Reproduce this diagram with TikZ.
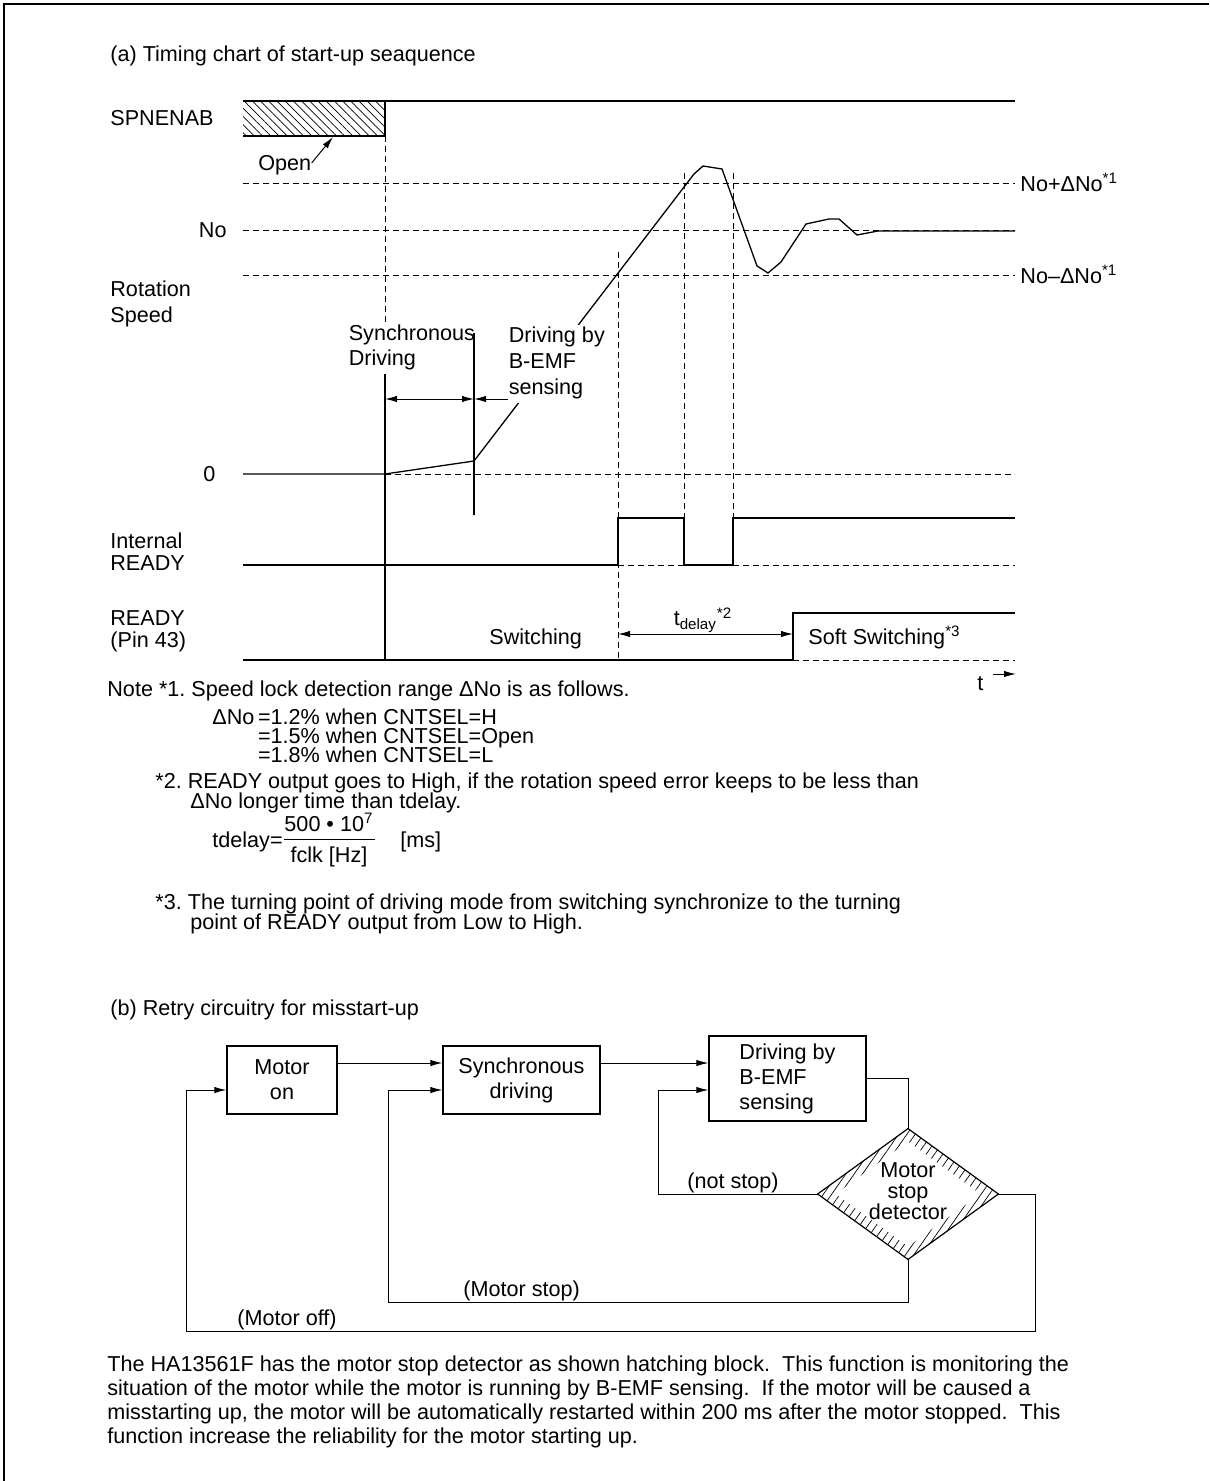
\documentclass[tikz,border=0pt]{standalone}
\usepackage{fontspec}
\setmainfont{Liberation Sans}
\usetikzlibrary{arrows.meta,patterns.meta,shapes.geometric,calc}
\frenchspacing
\begin{document}
\begin{tikzpicture}[x=0.5pt,y=-0.5pt,
  font=\fontsize{10.8}{12.5}\selectfont,
  sig/.style={line width=0.65pt},
  dsh/.style={line width=0.5pt, dash pattern=on 3pt off 2pt},
  lbl/.style={inner sep=0pt, anchor=west, text height=7.8pt, text depth=0pt},
  wlbl/.style={inner sep=1.2pt, anchor=west, fill=white, text height=7.8pt, text depth=3pt},
  arr/.style={-{Latex[length=6pt,width=3.2pt]}, line width=0.5pt},
  dbl/.style={{Latex[length=6pt,width=3.2pt]}-{Latex[length=6pt,width=3.2pt]}, line width=0.5pt},
  box/.style={draw, line width=0.6pt, rectangle, inner sep=0pt, align=center},
  flow/.style={line width=0.5pt},
]
\useasboundingbox (0,0) rectangle (1209,1481);
\draw[line width=0.8pt] (4,1481) -- (4,4) -- (1209,4);

% ---------------- (a) timing chart ----------------
\node[lbl] (ta) at (110,54) {(a) Timing chart of start-up seaquence};

% SPNENAB
\node[lbl] (spn) at (110,118) {SPNENAB};
\fill[pattern={Lines[angle=-45,distance=2.9pt,line width=0.35pt]}] (243,101) rectangle (385,136);
\draw[sig] (243,136) -- (385,136) -- (385,101);
\draw[sig] (243,101) -- (1015,101);
\node[lbl] (open) at (258,163) {Open};
\coordinate (openTip) at (333,137);
\draw[arr] (open.east) -- (openTip);

% horizontal reference lines
\draw[dsh] (243,184) -- (1015,184);
\draw[dsh] (243,231) -- (1015,231);
\draw[dsh] (243,276) -- (1015,276);
\draw[dsh] (385,474) -- (1015,474);
\node[lbl] (nop) at (1020,184) {No+ΔNo\textsuperscript{*1}};
\node[lbl] (nom) at (1020,276) {No–ΔNo\textsuperscript{*1}};
\node[lbl, anchor=east] (no) at (227,230) {No};
\node[lbl] (rot1) at (110,289) {Rotation};
\node[lbl] (rot2) at (110,315) {Speed};
\node[lbl] (zero) at (203,474) {0};

% vertical markers
\draw[dsh] (385,136) -- (385,372);
\draw[sig] (385,372) -- (385,660);
\draw[dsh] (618,252) -- (618,660);
\draw[dsh] (684,173) -- (684,518);
\draw[dsh] (733,173) -- (733,565);

% speed curve
\draw[sig] (243,474) -- (385,474) -- (474,461) -- (694,174) -- (703,166) -- (722,169)
  -- (757,266) -- (768,273) -- (781,262) -- (806,224) -- (829,219) -- (839,219)
  -- (857,235) -- (878,231) -- (1015,231);

% labels over lines
\node[wlbl] (sy1) at (346,336) {Synchronous};
\node[wlbl] (sy2) at (346,361) {Driving};
\node[wlbl] (bd1) at (506,338) {Driving by};
\node[wlbl] (bd2) at (506,364) {B-EMF};
\node[wlbl] (bd3) at (506,390) {sensing};
\draw[sig] (474,333) -- (474,515);
\coordinate (sL) at (385,399);
\coordinate (sR) at (474,399);
\coordinate (bL) at (508,399);
\draw[dbl] (sL) -- (sR);
\draw[arr] (bL) -- (sR);

% Internal READY
\node[lbl] (ir1) at (110,541) {Internal};
\node[lbl] (ir2) at (110,563) {READY};
\draw[sig] (243,565) -- (618,565) -- (618,518) -- (684,518) -- (684,565) -- (733,565) -- (733,518) -- (1015,518);
\draw[dsh] (618,565) -- (684,565);
\draw[dsh] (733,565) -- (1015,565);

% READY (Pin 43)
\node[lbl] (rd1) at (110,618) {READY};
\node[lbl] (rd2) at (110,640) {(Pin 43)};
\draw[sig] (243,660) -- (793,660) -- (793,613) -- (1015,613);
\draw[dsh] (793,660) -- (1015,660);
\node[lbl] (sw) at (489,637) {Switching};
\node[lbl] (ssw) at (808,637) {Soft Switching\textsuperscript{*3}};
\coordinate (tdL) at (618,634);
\coordinate (tdR) at (793,634);
\draw[dbl] (tdL) -- (tdR);
\node[inner sep=0pt] (tdlab) at (703,620) {t\textsubscript{delay}\textsuperscript{*2}};
\node[lbl] (tt) at (977,683) {t};
\coordinate (tA) at (993,674);
\coordinate (tB) at (1016,674);
\draw[arr] (tA) -- (tB);

% ---------------- notes ----------------
\node[lbl] (n1) at (107,689) {Note *1. Speed lock detection range ΔNo is as follows.};
\node[lbl] (n1a) at (212,717) {ΔNo\,=1.2\% when CNTSEL=H};
\node[lbl] (n1c) at (212,736) {\phantom{ΔNo\,}=1.5\% when CNTSEL=Open};
\node[lbl] (n1d) at (212,755) {\phantom{ΔNo\,}=1.8\% when CNTSEL=L};
\node[lbl] (n2) at (155,781) {*2. READY output goes to High, if the rotation speed error keeps to be less than};
\node[lbl] (n2b) at (190,801) {ΔNo longer time than tdelay.};
\node[lbl] (fm) at (212,840) {tdelay=};
\node[inner sep=0pt] (fnum) at (329,822) {500 • 10\textsuperscript{7}};
\draw[line width=0.5pt] (284,839) -- (375,839);
\node[inner sep=0pt] (fden) at (329,857) {fclk [Hz]};
\node[lbl] (fms) at (400,840) {[ms]};
\node[lbl] (n3) at (155,902) {*3. The turning point of driving mode from switching synchronize to the turning};
\node[lbl] (n3b) at (190,922) {point of READY output from Low to High.};

% ---------------- (b) flowchart ----------------
\node[lbl] (tb) at (110,1008) {(b) Retry circuitry for misstart-up};

\node[box, minimum width=55pt, minimum height=34pt] (mot) at (282,1080) {Motor\\on};
\node[box, minimum width=78.5pt, minimum height=34pt] (syn) at (521.5,1080) {Synchronous\\driving};
\node[box, minimum width=78.5pt, minimum height=42.5pt, align=left] (bemf) at (787.5,1078.5) {Driving by\\B-EMF\\sensing};
\node[diamond, minimum width=90pt, minimum height=65pt, inner sep=0pt, aspect=1.385] (det) at (908,1194) {};
\fill[pattern={Lines[angle=55,distance=3.4pt,line width=0.35pt]}] (det.north) -- (det.east) -- (det.south) -- (det.west) -- cycle;
\fill[white] ($(det.center)!0.8!(det.north)$) -- ($(det.center)!0.8!(det.east)$) -- ($(det.center)!0.8!(det.south)$) -- ($(det.center)!0.8!(det.west)$) -- cycle;
\draw[line width=0.6pt] (det.north) -- (det.east) -- (det.south) -- (det.west) -- cycle;
\node[align=center, inner sep=0pt, font=\fontsize{10.8}{10.5}\selectfont] (dett) at (908,1191) {Motor\\stop\\detector};

\coordinate (topY) at (0,1063);
\coordinate (fbY) at (0,1090);
\coordinate (outY) at (0,1078);
\draw[arr] (mot.east |- topY) -- (syn.west |- topY);
\draw[arr] (syn.east |- topY) -- (bemf.west |- topY);
\draw[flow] (bemf.east |- outY) -| (det.north);
\draw[arr] (det.west) -| (658,1090) -- (bemf.west |- fbY);
\draw[arr] (det.south) |- (388,1302) -- (388,1090) -- (syn.west |- fbY);
\draw[arr] (det.east) -| (1035,1331) -- (186,1331) -- (186,1090) -- (mot.west |- fbY);
\node[lbl] (ns) at (687,1181) {(not stop)};
\node[lbl] (ms) at (463,1289) {(Motor stop)};
\node[lbl] (mo) at (237,1318) {(Motor off)};

% ---------------- paragraph ----------------
\node[lbl] (p1) at (107,1364) {The HA13561F has the motor stop detector as shown hatching block.\ \ This function is monitoring the};
\node[lbl] (p2) at (107,1388) {situation of the motor while the motor is running by B-EMF sensing.\ \ If the motor will be caused a};
\node[lbl] (p3) at (107,1412) {misstarting up, the motor will be automatically restarted within 200 ms after the motor stopped.\ \ This};
\node[lbl] (p4) at (107,1436) {function increase the reliability for the motor starting up.};
\end{tikzpicture}
\end{document}
